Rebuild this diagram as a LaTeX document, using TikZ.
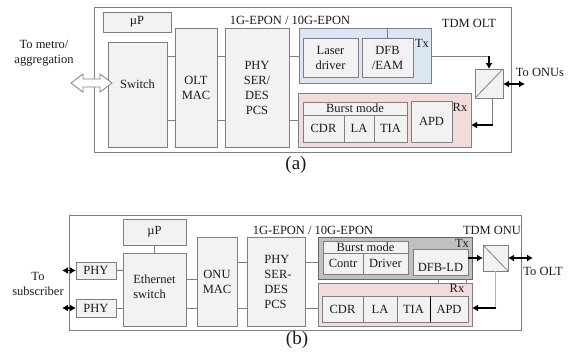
\documentclass[tikz,border=0pt]{standalone}
\usepackage{fontspec}
\setmainfont{Liberation Serif}
\usetikzlibrary{arrows.meta,calc}
\definecolor{bord}{HTML}{7F7F7F}
\definecolor{boxf}{HTML}{F2F2F2}
\definecolor{txf}{HTML}{DCE6F2}
\definecolor{rxf}{HTML}{F2DCDB}
\definecolor{txg}{HTML}{C0C0C0}
\definecolor{txt}{HTML}{1A1A1A}
\newcommand\blk[7]{\node[#6, minimum width={(#4)-(#2)}, minimum height={(#5)-(#3)}] (#1) at ({((#2)+(#4))/2},{((#3)+(#5))/2}) {#7};}
\begin{document}
\begin{tikzpicture}[x=1pt,y=-1pt,
  every node/.style={text=txt, font=\fontsize{12.5}{15}\selectfont},
  box/.style={draw=bord, fill=boxf, line width=0.8pt, inner sep=0pt, outer sep=0pt, align=center},
  outerbox/.style={draw=bord, fill=white, line width=0.8pt, inner sep=0pt, outer sep=0pt},
  txbox/.style={box, fill=txf},
  rxbox/.style={box, fill=rxf},
  txgbox/.style={box, fill=txg, draw=bord!80!black},
  lbl/.style={inner sep=0pt, align=center},
  conn/.style={draw=bord, line width=0.8pt},
  tarrow/.style={draw=black, line width=1.8pt, -{Latex[length=6pt,width=7pt]}},
  tdarrow/.style={draw=black, line width=1.8pt, {Latex[length=6pt,width=7pt]}-{Latex[length=6pt,width=7pt]}},
  hollow/.style={draw=bord, fill=white, line width=0.8pt, line join=miter}
]
\useasboundingbox (0,0) rectangle (572,360);

% ================= (a) =================
\blk{outa}{94}{7}{511}{152}{outerbox}{}
\blk{upa}{103}{12}{171}{32}{box}{µP}
\blk{sw}{108}{42}{167}{147}{box}{}
\node[lbl] (swl) at (137.5,84) {Switch};
\blk{mac}{175}{28}{217}{147}{box}{OLT\\MAC}
\blk{phya}{225}{28}{289}{147}{box}{PHY\\SER/\\DES\\PCS}
\blk{tx}{299}{28}{431}{83}{txbox}{}
\blk{ld}{303}{38}{358}{77}{box}{Laser\\driver}
\blk{dfb}{362}{38}{413}{77}{box}{DFB\\/EAM}
\blk{rx}{298}{93}{471}{147}{rxbox}{}
\blk{bm}{303}{102}{407}{115}{box}{Burst mode}
\blk{cdr}{303}{115}{344}{142}{box}{CDR}
\blk{la}{344}{115}{374}{142}{box}{LA}
\blk{tia}{374}{115}{407}{142}{box}{TIA}
\blk{apd}{411}{101}{452}{142}{box}{APD}
\blk{spa}{475}{69}{503}{98}{box}{}
\draw[conn] (spa.south west) -- (spa.north east);

\node[lbl] (txl) at (422,43) {Tx};
\node[lbl] (rxl) at (460,107) {Rx};
\node[lbl] (olt) at (469,23) {TDM OLT};
\node[lbl] (epa) at (290,20) {1G-EPON / 10G-EPON};
\node[lbl] (onus) at (540,72) {To ONUs};
\node[lbl] (metro) at (44,53) {To metro/\\aggregation};
\node[lbl, font=\fontsize{19}{22}\selectfont] (capa) at (296,165) {(a)};

\coordinate (ya1) at (0,56);
\coordinate (ya2) at (0,120);
\coordinate (ya3) at (0,125);
\draw[conn] (sw.east |- ya1) -- (mac.west |- ya1);
\draw[conn] (sw.east |- ya2) -- (mac.west |- ya2);
\draw[conn] (mac.east |- ya1) -- (phya.west |- ya1);
\draw[conn] (mac.east |- ya2) -- (phya.west |- ya2);
\draw[conn] (phya.east |- ya1) -- (tx.west |- ya1);
\draw[conn] (phya.east |- ya2) -- (rx.west |- ya2);
\draw[conn] (dfb.north |- tx.north) -- (dfb.north);
\coordinate (ca1) at (spa.north |- ya1);
\draw[conn] (tx.east |- ya1) -- (ca1);
\draw[tarrow] (ca1) -- (spa.north);
\coordinate (ca2) at ($(spa.south)+(3,0)$);
\coordinate (ca3) at (ca2 |- ya3);
\draw[conn] (ca2) -- (ca3);
\draw[tarrow] ($(ca3)+(0.9,0)$) -- (rx.east |- ya3);
\coordinate (ona) at (525,84);
\draw[tdarrow] (spa.east |- ona) -- (ona);
\draw[hollow] (71,83) -- (83,74) -- (83,79) -- (100,79) -- (100,74) -- (112,83)
  -- (100,92) -- (100,87) -- (83,87) -- (83,92) -- cycle;

% ================= (b) =================
\blk{outb}{69}{215}{521}{330}{outerbox}{}
\blk{upb}{123}{219}{186}{245}{box}{µP}
\blk{esw}{123}{253}{186}{326}{box}{}
\node[lbl, align=left] (eswl) at (154.5,287) {Ethernet\\switch};
\blk{phy1}{76}{262}{116}{279}{box}{PHY}
\blk{phy2}{76}{299}{116}{317}{box}{PHY}
\blk{onu}{197}{237}{237}{326}{box}{ONU\\MAC}
\blk{phyb}{247}{237}{305}{326}{box}{}
\node[lbl, align=left] (phybl) at (278,282) {PHY\\SER-\\DES\\PCS};
\blk{txb}{318}{237}{472}{279}{txgbox}{}
\blk{bmb}{323}{241}{408}{253}{box}{Burst mode}
\blk{contr}{323}{253}{363}{274}{box}{Contr}
\blk{drv}{363}{253}{408}{274}{box}{Driver}
\blk{dfbld}{413}{249}{468}{275}{box}{}
\node[lbl] (dfbl) at (440.5,267) {DFB-LD};
\blk{rxb}{318}{283}{472}{326}{rxbox}{}
\blk{cdrb}{322}{296}{363}{322}{box}{CDR}
\blk{lab}{363}{296}{397}{322}{box}{LA}
\blk{tiab}{397}{296}{430}{322}{box}{TIA}
\blk{apdb}{430}{296}{468}{322}{box}{APD}
\draw[line width=0.8pt, black] (apdb.north west) -- (apdb.south west);
\blk{spb}{483}{245}{508}{271}{box}{}
\draw[conn] (spb.north west) -- (spb.south east);

\node[lbl] (txlb) at (462,243) {Tx};
\node[lbl] (rxlb) at (457,288) {Rx};
\node[lbl] (onut) at (492,230) {TDM ONU};
\node[lbl] (epb) at (313,230) {1G-EPON / 10G-EPON};
\node[lbl] (tolt) at (543,271) {To OLT};
\node[lbl] (subs) at (38,284) {To\\subscriber};
\node[lbl, font=\fontsize{19}{22}\selectfont] (capb) at (297,340) {(b)};

\coordinate (yb1) at (0,262);
\coordinate (yb2) at (0,279);
\coordinate (yb3) at (0,308);
\coordinate (s1) at (62,270.5);
\coordinate (s2) at (62,308);
\draw[tdarrow] (s1) -- (phy1.west);
\draw[tdarrow] (s2) -- (phy2.west);
\draw[conn] (phy1.east) -- (esw.west |- phy1.east);
\draw[conn] (phy2.east) -- (esw.west |- phy2.east);
\draw[conn] (upb.south) -- (esw.north);
\draw[conn] (esw.east |- yb2) -- (onu.west |- yb2);
\draw[conn] (esw.east |- yb3) -- (onu.west |- yb3);
\draw[conn] (onu.east |- yb1) -- (phyb.west |- yb1);
\draw[conn] (onu.east |- yb3) -- (phyb.west |- yb3);
\draw[conn] (phyb.east |- yb1) -- (txb.west |- yb1);
\draw[conn] (phyb.east |- yb3) -- (rxb.west |- yb3);
\coordinate (xb1) at (438,0);
\coordinate (xb2) at (466,0);
\draw[conn] (xb1 |- txb.south) -- (xb1 |- rxb.north);
\draw[conn] (xb2 |- txb.south) -- (xb2 |- rxb.north);
\draw[tarrow] (dfbld.east |- spb.west) -- (spb.west);
\coordinate (olt) at (533,258);
\draw[tdarrow] (spb.east) -- (olt);
\coordinate (cb1) at (spb.south |- yb3);
\draw[draw=bord!60, line width=1pt] (spb.south) -- (cb1);
\draw[tarrow] ($(cb1)+(0.9,0)$) -- (rxb.east |- yb3);
\end{tikzpicture}
\end{document}
